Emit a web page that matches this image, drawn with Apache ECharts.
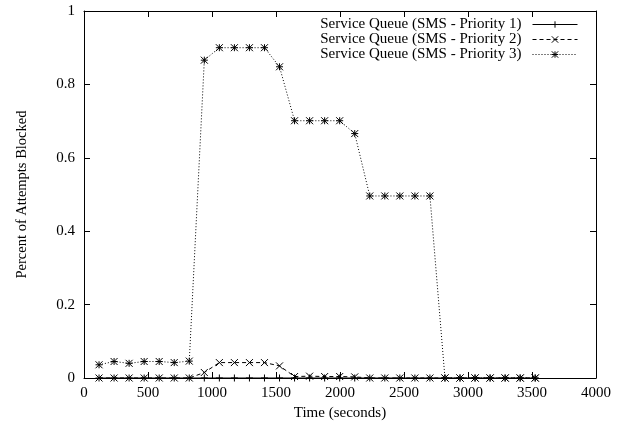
<!DOCTYPE html>
<html>
<head>
<meta charset="utf-8">
<script src="https://cdn.jsdelivr.net/npm/echarts@6/dist/echarts.min.js"></script>
<style>
  html, body { margin: 0; padding: 0; background: #fff; }
  #chart { width: 622px; height: 428px; }
</style>
</head>
<body>
<div id="chart"></div>
<script>
// Sample times (seconds)
const times = [117.5, 235, 352.5, 470, 587.5, 705, 822.5, 940, 1057.5, 1175,
  1292.5, 1410, 1527.5, 1645, 1762.5, 1880, 1997.5, 2115, 2232.5, 2350,
  2467.5, 2585, 2702.5, 2820, 2937.5, 3055, 3172.5, 3290, 3407.5, 3525];

// Fraction of attempts blocked per priority class
const priority1 = [0, 0, 0, 0, 0, 0, 0, 0, 0, 0, 0, 0, 0, 0, 0,
  0, 0, 0, 0, 0, 0, 0, 0, 0, 0, 0, 0, 0, 0, 0];
const priority2 = [0, 0, 0, 0, 0, 0, 0, 0.015, 0.042, 0.042, 0.042, 0.042, 0.033, 0.004, 0.005,
  0.004, 0.004, 0.003, 0, 0, 0, 0, 0, 0, 0, 0, 0, 0, 0, 0];
const priority3 = [0.036, 0.045, 0.040, 0.045, 0.045, 0.042, 0.046, 0.866, 0.900, 0.900,
  0.900, 0.900, 0.848, 0.701, 0.701, 0.701, 0.701, 0.666, 0.496, 0.496,
  0.496, 0.496, 0.496, 0, 0, 0, 0, 0, 0, 0];

const seriesNames = [
  'Service Queue (SMS - Priority 1)',
  'Service Queue (SMS - Priority 2)',
  'Service Queue (SMS - Priority 3)'
];

const xTicks = { min: 0, max: 4000, interval: 500 };
const yTicks = { min: 0, max: 1, interval: 0.2 };

const FONT = '"Liberation Serif", "DejaVu Serif", serif';

// gnuplot-like point glyphs
const PLUS = 'path://M0,5L10,5M5,0L5,10';
const CROSS = 'path://M0,0L10,10M0,10L10,0';
const STAR = 'path://M0,5L10,5M5,0L5,10M0,0L10,10M0,10L10,0';

function pairs(ys) { return times.map((t, i) => [t, ys[i]]); }

function makeSeries(name, ys, symbol, size, dash) {
  return {
    name: name,
    type: 'line',
    data: pairs(ys),
    symbol: symbol,
    symbolSize: size,
    showAllSymbol: true,
    xAxisIndex: 0,
    yAxisIndex: 0,
    lineStyle: { color: '#000', width: 1, type: dash },
    itemStyle: { color: '#000', borderColor: '#000', borderWidth: 1 },
    emphasis: { disabled: true },
    animation: false
  };
}

const tickInside = { show: true, inside: true, length: 6, lineStyle: { color: '#000', width: 1 } };
const axisLineBlack = { show: true, onZero: false, lineStyle: { color: '#000', width: 1 } };
const labelStyle = { fontFamily: FONT, fontSize: 15, color: '#000' };

const chart = echarts.init(document.getElementById('chart'), null, { renderer: 'canvas' });
chart.setOption({
  backgroundColor: '#fff',
  animation: false,
  grid: { left: 84, right: 26, top: 11, bottom: 50 },
  legend: {
    orient: 'vertical',
    right: 39,
    top: 12,
    align: 'right',
    itemWidth: 45,
    itemHeight: 8,
    itemGap: 0,
    lineStyle: { width: 1 },
    itemStyle: { borderWidth: 1 },
    textStyle: { fontFamily: FONT, fontSize: 15, lineHeight: 14, color: '#000', padding: [0, 6, 0, 0] },
    data: seriesNames
  },
  xAxis: [
    {
      type: 'value', position: 'bottom',
      min: xTicks.min, max: xTicks.max, interval: xTicks.interval,
      name: 'Time (seconds)', nameLocation: 'middle', nameGap: 25,
      nameTextStyle: labelStyle,
      axisLine: axisLineBlack, axisTick: tickInside,
      axisLabel: Object.assign({ margin: 8, formatter: v => String(v) }, labelStyle),
      splitLine: { show: false }
    },
    {
      type: 'value', position: 'top',
      min: xTicks.min, max: xTicks.max, interval: xTicks.interval,
      axisLine: axisLineBlack, axisTick: tickInside,
      axisLabel: { show: false }, splitLine: { show: false }
    }
  ],
  yAxis: [
    {
      type: 'value', position: 'left',
      min: yTicks.min, max: yTicks.max, interval: yTicks.interval,
      name: 'Percent of Attempts Blocked', nameLocation: 'middle', nameGap: 54,
      nameTextStyle: Object.assign({}, labelStyle, { fontSize: 14.5 }),
      axisLine: axisLineBlack, axisTick: tickInside,
      axisLabel: Object.assign({ margin: 9 }, labelStyle),
      splitLine: { show: false }
    },
    {
      type: 'value', position: 'right',
      min: yTicks.min, max: yTicks.max, interval: yTicks.interval,
      axisLine: axisLineBlack, axisTick: tickInside,
      axisLabel: { show: false }, splitLine: { show: false }
    }
  ],
  series: [
    makeSeries(seriesNames[0], priority1, PLUS, 7, 'solid'),
    makeSeries(seriesNames[1], priority2, CROSS, 7, [4, 3]),
    makeSeries(seriesNames[2], priority3, STAR, 7, [1, 2])
  ]
});
</script>
</body>
</html>
